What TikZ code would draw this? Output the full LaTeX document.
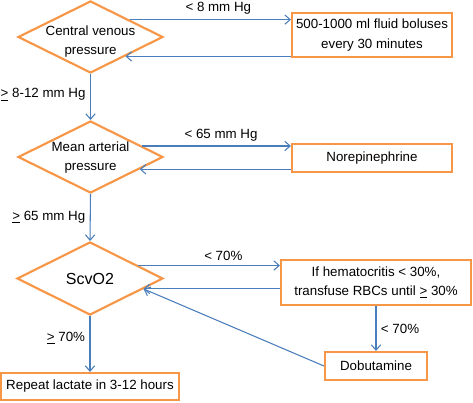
\documentclass[tikz,border=0pt]{standalone}
\usepackage{fontspec}
\setmainfont{Liberation Sans}
\usetikzlibrary{arrows.meta}
\usetikzlibrary{shapes.geometric}

\definecolor{lineblue}{RGB}{74,126,187}
\definecolor{boxorange}{RGB}{247,150,70}

\begin{document}
\begin{tikzpicture}[x=0.75pt,y=0.75pt,yscale=-1,xscale=1,
  every node/.style={font=\fontsize{10}{14.6}\selectfont},
  decision/.style={diamond, draw=boxorange, line width=1.6pt, inner sep=0pt, minimum width=108.75pt, minimum height=54pt},
  action/.style={rectangle, draw=boxorange, line width=1.6pt, inner sep=2pt, align=center},
  flow/.style={draw=lineblue, line width=0.8pt, -{Straight Barb[length=4pt,width=7pt]}}]
\useasboundingbox (0,0) rectangle (473,402);

%Shape: Diamonds
\node[decision] (cvp) at (90.5,37) {};
\node[decision] (map) at (90.5,157) {};
\node[decision, minimum width=109.5pt, minimum height=54.75pt] (scv) at (90,278.5) {};

% Text Node
\node[align=center] (cvp text) at (90.5,41.5) {Central venous\\pressure};
\node[align=center] (map text) at (90.5,157.5) {Mean arterial\\pressure};
\node[font=\fontsize{12}{14}\selectfont] (scv text) at (scv) {ScvO2};

%Shape: Rectangles
\node[action, minimum width=120pt, minimum height=33pt] (fluid) at (372,35) {500-1000 ml fluid boluses\\every 30 minutes};
\node[action, minimum width=120pt, minimum height=21pt] (nore) at (372,158) {Norepinephrine};
\node[action, minimum width=142.5pt, minimum height=33.75pt] (hemat) at (376,282.5) {If hematocritis < 30\%,\\transfuse RBCs until \underline{>} 30\%};
\node[action, minimum width=76.5pt, minimum height=21pt] (dobu) at (376,366) {Dobutamine};
\node[action, minimum width=133.5pt, minimum height=20.25pt] (repeat) at (90,386.5) {Repeat lactate in 3-12 hours};

%Straight Lines: down the left column
\draw[flow] (cvp.south) -- node[left, pos=0.45] {\underline{>} 8-12 mm Hg} (map.north);
\draw[flow] (map.south) -- node[left] {\underline{>} 65 mm Hg} (scv.north);
\draw[flow] (scv.south) -- node[left, pos=0.4] {\underline{>} 70\%} (repeat.north);

%Straight Lines: out to the boxes and back
\draw[flow] (cvp.24) -- node[above, pos=0.55] {< 8 mm Hg} (cvp.24 -| fluid.west);
\draw[flow] (fluid.west |- cvp.-29) -- (cvp.-29);
\draw[flow] (map.12) -- node[above, pos=0.53] {< 65 mm Hg} (map.12 -| nore.west);
\draw[flow] (nore.west |- map.-14) -- (map.-14);
\draw[flow] (scv.15) -- node[above, pos=0.6] {< 70\%} (scv.15 -| hemat.west);
\draw[flow] (hemat.west |- scv.-11) -- (scv.-11);
\draw[flow] (hemat.south) -- node[right] {< 70\%} (dobu.north);
\draw[flow] (dobu.west) -- (scv.-11);

\end{tikzpicture}
\end{document}
